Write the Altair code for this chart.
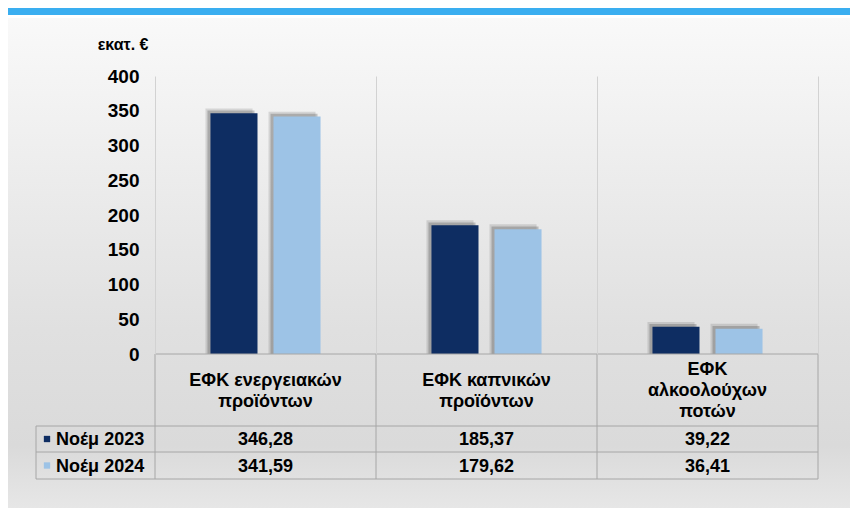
import altair as alt
import pandas as pd

# ---- data ----
categories = ["ΕΦΚ ενεργειακών\nπροϊόντων", "ΕΦΚ καπνικών\nπροϊόντων", "ΕΦΚ\nαλκοολούχων\nποτών"]
series = ["Νοέμ 2023", "Νοέμ 2024"]
values_2023 = [346.28, 185.37, 39.22]
values_2024 = [341.59, 179.62, 36.41]
colors = ["#0e2d62", "#9dc3e6"]
y_ticks = [0, 50, 100, 150, 200, 250, 300, 350, 400]
y_title = "εκατ. €"

rows = []
for s, vals in zip(series, [values_2023, values_2024]):
    for c, v in zip(categories, vals):
        rows.append({"cat": c, "series": s, "value": v,
                     "label": f"{v:.2f}".replace(".", ",")})
df = pd.DataFrame(rows)
cat_df = pd.DataFrame({"cat": categories})
ser_df = pd.DataFrame({"series": series})
one = pd.DataFrame({"k": [0]})

FONT = "Liberation Sans"
W, H = 663, 278
LH = 21

x_enc = alt.X("cat:N", sort=categories, axis=None,
              scale=alt.Scale(paddingInner=0, paddingOuter=0))
color_scale = alt.Scale(domain=series, range=colors)

panel = alt.Chart(one).mark_rect(
    fill={"gradient": "linear", "x1": 0, "y1": 0, "x2": 0, "y2": 1,
          "stops": [{"offset": 0, "color": "#f9f9f9"},
                    {"offset": 0.62, "color": "#e0e0e0"},
                    {"offset": 0.85, "color": "#dadada"},
                    {"offset": 1, "color": "#e9e9e9"}]}
).encode(x=alt.value(-149), x2=alt.value(700), y=alt.value(-58), y2=alt.value(445))

banner = alt.Chart(one).mark_rect(color="#3aaef0").encode(
    x=alt.value(-149), x2=alt.value(700), y=alt.value(-76), y2=alt.value(-61))

def shadow_layer(shift, extra, op):
    return alt.Chart(df).transform_calculate(sv=f"datum.value + {extra}").mark_bar(
        color="#404040", opacity=op
    ).encode(
        x=x_enc,
        xOffset=alt.XOffset("series:N", sort=series,
                            scale=alt.Scale(range=[-shift, W / 3 - shift],
                                            paddingInner=0.254, paddingOuter=0.88)),
        y=alt.Y("sv:Q", scale=alt.Scale(domain=[0, 400]), axis=None),
    )

shadow1 = shadow_layer(5, 7, 0.16)
shadow2 = shadow_layer(3, 4, 0.28)

bars = alt.Chart(df).mark_bar().encode(
    x=alt.X("cat:N", sort=categories,
            scale=alt.Scale(paddingInner=0, paddingOuter=0),
            axis=alt.Axis(title=None, labels=False, ticks=False, domain=False, zindex=1,
                          grid=True, tickBand="extent", gridColor="#d2d2d2", gridWidth=1)),
    xOffset=alt.XOffset("series:N", sort=series,
                        scale=alt.Scale(paddingInner=0.254, paddingOuter=0.88)),
    y=alt.Y("value:Q", scale=alt.Scale(domain=[0, 400]),
            axis=alt.Axis(values=y_ticks, title=y_title, titleAngle=0, titleAlign="right",
                          titleBaseline="middle", titleX=-7, titleY=-32, zindex=1,
                          titleFont=FONT, titleFontSize=16, titleFontWeight="bold",
                          titleColor="#000000",
                          labelFont=FONT, labelFontSize=19, labelFontWeight="bold",
                          labelColor="#000000", labelPadding=16, ticks=False,
                          domain=False, grid=False)),
    color=alt.Color("series:N", scale=color_scale, legend=None),
)

# table lines
GRID = "#a6a6a6"
rules = []
for yy, xa in [(278, 0), (350, -119), (376, -119), (403, -119)]:
    rules.append(alt.Chart(one).mark_rule(color=GRID, strokeWidth=1).encode(
        x=alt.value(xa), x2=alt.value(W), y=alt.value(yy)))
for xx, ya in [(-119, 350), (0, 278), (221, 278), (442, 278), (663, 278)]:
    rules.append(alt.Chart(one).mark_rule(color=GRID, strokeWidth=1).encode(
        x=alt.value(xx), y=alt.value(ya), y2=alt.value(403)))

header = alt.Chart(cat_df).transform_calculate(
    ty=f"315 - (length(split(datum.cat, '\\n')) - 1) * {LH / 2}"
).mark_text(
    font=FONT, fontSize=18, fontWeight="bold", color="#000000",
    lineBreak="\n", lineHeight=LH, baseline="middle", align="center"
).encode(x=x_enc, y=alt.Y("ty:Q", scale=None, axis=None), text="cat:N")

value_rows = []
for s, yy in zip(series, [364, 390.5]):
    value_rows.append(alt.Chart(df).transform_filter(alt.datum.series == s).mark_text(
        font=FONT, fontSize=18, fontWeight="bold", color="#000000",
        baseline="middle", align="center"
    ).encode(x=x_enc, y=alt.value(yy), text="label:N"))

legend_sq = []
legend_tx = []
for s, yy in zip(series, [364, 390.5]):
    sub = alt.Chart(ser_df).transform_filter(alt.datum.series == s)
    legend_sq.append(sub.mark_square(size=40, opacity=1).encode(
        x=alt.value(-108), y=alt.value(yy - 1),
        color=alt.Color("series:N", scale=color_scale, legend=None)))
    legend_tx.append(sub.mark_text(
        font=FONT, fontSize=18, fontWeight="bold", color="#000000",
        baseline="middle", align="left"
    ).encode(x=alt.value(-99), y=alt.value(yy), text="series:N"))

chart = alt.layer(
    panel, banner, shadow1, shadow2, bars, *rules, header,
    *value_rows, *legend_sq, *legend_tx
).resolve_scale(xOffset="independent").resolve_axis(
    x="independent", y="independent"
).properties(
    width=W, height=H,
    autosize=alt.AutoSizeParams(type="none"),
    padding={"left": 147, "top": 68, "right": 32, "bottom": 154},
    background="#ffffff",
).configure_view(stroke=None)

chart.save("out.html", embed_options={"renderer": "svg", "actions": False})
